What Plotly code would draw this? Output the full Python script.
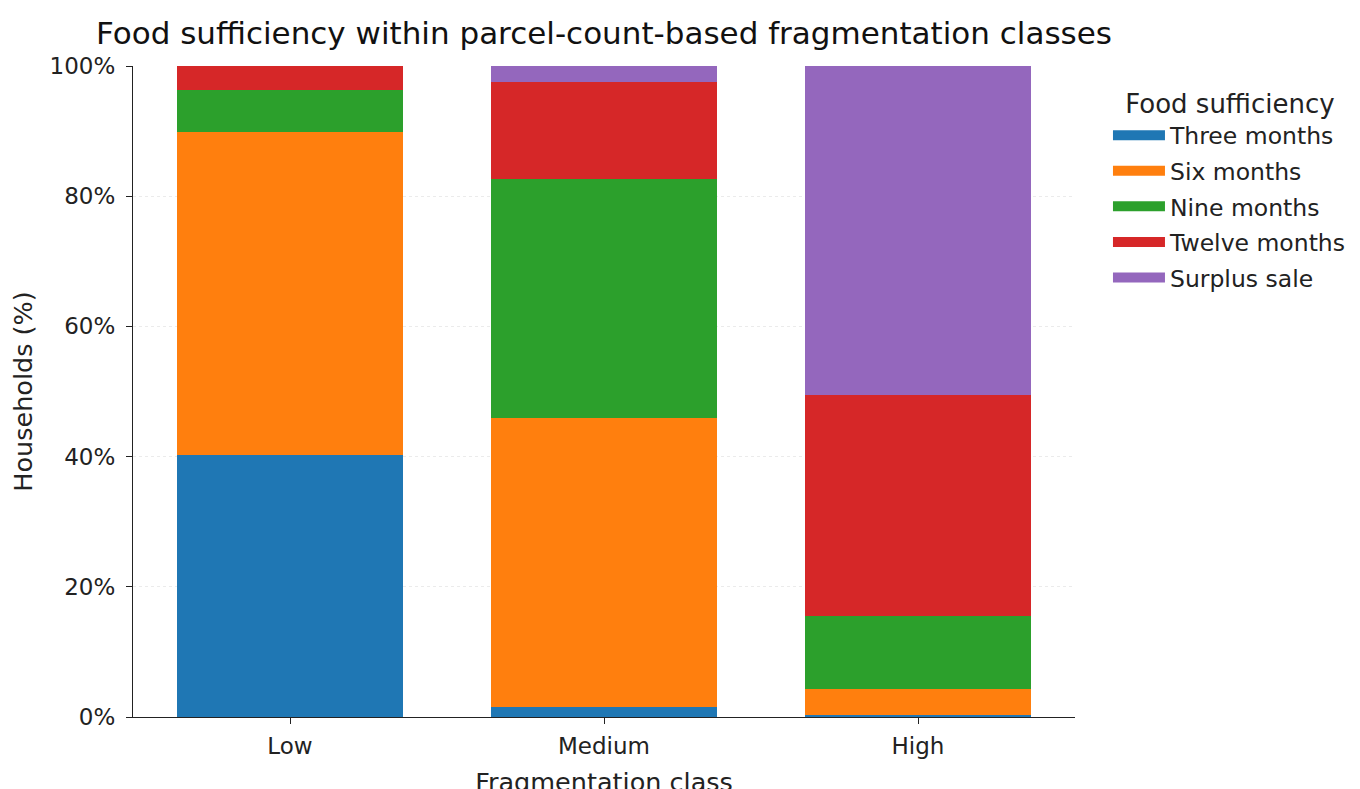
import plotly.graph_objects as go

categories = ["Low", "Medium", "High"]
series_names = ["Three months", "Six months", "Nine months", "Twelve months", "Surplus sale"]
three_months = [40.2, 1.5, 0.3]
six_months = [49.7, 44.5, 4.0]
nine_months = [6.4, 36.6, 11.2]
twelve_months = [3.7, 15.0, 34.0]
surplus_sale = [0.0, 2.4, 50.5]
colors = ["#1f77b4", "#ff7f0e", "#2ca02c", "#d62728", "#9467bd"]
y_ticks = [0, 20, 40, 60, 80, 100]
y_tick_labels = ["0%", "20%", "40%", "60%", "80%", "100%"]

values = [three_months, six_months, nine_months, twelve_months, surplus_sale]

fig = go.Figure()
for name, vals, col in zip(series_names, values, colors):
    fig.add_trace(go.Bar(x=categories, y=vals, name=name, legendgroup=name, showlegend=False,
                         marker=dict(color=col, line=dict(width=0))))
# legend swatches (wide rectangles, as in the reference)
for name, col in zip(series_names, colors):
    fig.add_trace(go.Scatter(x=[None], y=[None], mode="lines", name=name, legendgroup=name,
                             line=dict(color=col, width=16), hoverinfo="skip"))

FONT = "DejaVu Sans"
fig.update_layout(
    barmode="stack",
    bargap=0.28,
    width=1360, height=789,
    paper_bgcolor="white", plot_bgcolor="white",
    margin=dict(l=125, r=293, t=58, b=80, autoexpand=False),
    font=dict(family=FONT, color="#222222", size=22),
    title=dict(text="Food sufficiency within parcel-count-based fragmentation classes",
               xref="paper", x=0.5, xanchor="center", y=0.968, yref="container", yanchor="middle",
               font=dict(family=FONT, size=31, color="#111111")),
    legend=dict(title=dict(text="Food sufficiency", font=dict(size=26, family=FONT), side="top center"),
                x=1.035, xanchor="left", y=0.979, yanchor="top",
                font=dict(size=23.5, family=FONT), traceorder="grouped",
                tracegroupgap=2, itemwidth=52),
    showlegend=True,
)
fig.update_xaxes(range=[-0.5, 2.5], showline=True, linecolor="#222222", linewidth=1.2,
                 ticks="outside", ticklen=6, tickcolor="#222222", showgrid=False,
                 tickfont=dict(size=23, family=FONT), ticklabelstandoff=2, automargin=False,
                 title=dict(text="Fragmentation class", font=dict(size=25.5, family=FONT)))
fig.update_yaxes(range=[0, 100], tickvals=y_ticks, ticktext=y_tick_labels,
                 showline=True, linecolor="#222222", linewidth=1.2,
                 ticks="outside", ticklen=6, tickcolor="#222222",
                 showgrid=True, gridcolor="#ebebeb", griddash="dot", gridwidth=1,
                 tickfont=dict(size=23, family=FONT), zeroline=False, ticklabelstandoff=6,
                 automargin=False,
                 title=dict(text="Households (%)", font=dict(size=25.5, family=FONT)))

fig.write_html("out.html")
